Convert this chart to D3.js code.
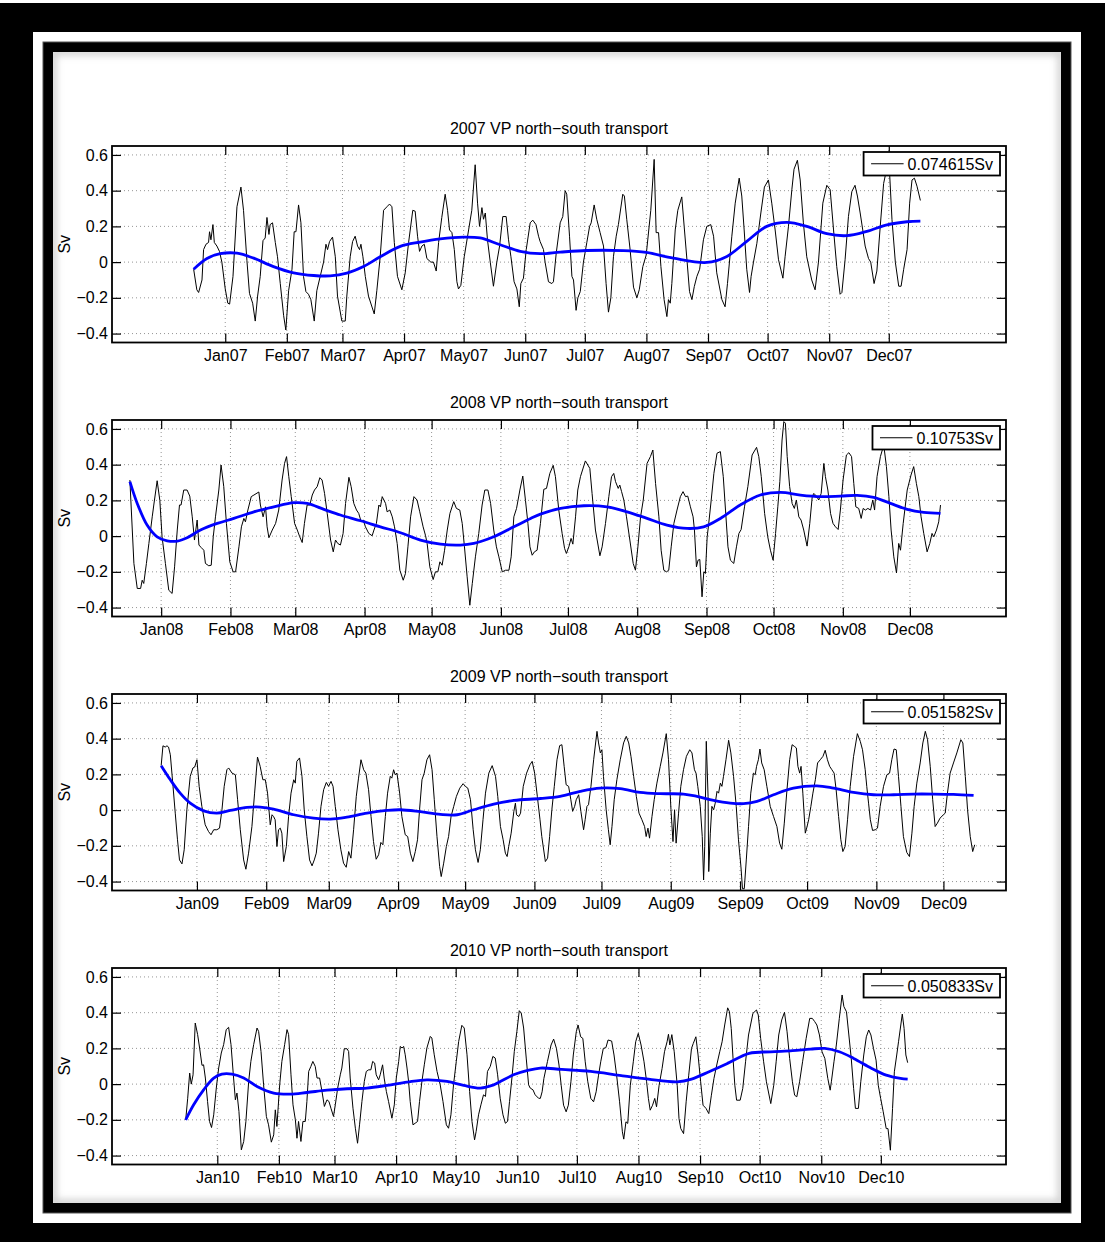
<!DOCTYPE html>
<html>
<head>
<meta charset="utf-8">
<script src="https://cdn.jsdelivr.net/npm/d3@7"></script>
<style>
  body { margin: 0; background: #fff; }
  text { font-family: "Liberation Sans", Arial, Helvetica, sans-serif; }
</style>
</head>
<body>
<svg id="fig" width="1105" height="1242"></svg>
<script>
// ---- data: daily VP north-south transport (Sv), [day of year offset, value] ----
const years = [2007, 2008, 2009, 2010];
const dayLimits = [[-57, 393], [-22, 378], [-38, 362], [-53, 397]];
const yLimits = [-0.45, 0.65];
const yTicks = [-0.4, -0.2, 0, 0.2, 0.4, 0.6];
const monthIndex = [0, 1, 2, 3, 4, 5, 6, 7, 8, 9, 10, 11];
const legendLabels = ["0.074615Sv", "0.10753Sv", "0.051582Sv", "0.050833Sv"];

const transport2007 = [
[-15.9,-0.04],[-14.3,-0.155],[-13.4,-0.17],[-11.7,-0.1],[-10.9,0.07],[-9.7,0.1],[-8.4,0.11],[-7.9,0.17],[-7.2,0.125],[-6.2,0.21],[-5.5,0.11],[-4.2,0.09],[-2.9,0.06],[-1.7,0],[0,-0.15],[1.3,-0.23],[2.2,-0.235],[3.9,-0.08],[5.9,0.31],[7.9,0.42],[9.2,0.29],[10.9,0.01],[12.2,-0.175],[13.8,-0.23],[15.1,-0.33],[16.3,-0.19],[17.6,-0.08],[19,0.12],[20.1,0.135],[21,0.25],[22,0.155],[22.6,0.21],[23.8,0.22],[25.2,0.11],[26.3,0.03],[27.7,-0.12],[29.4,-0.3],[30.5,-0.38],[31.9,-0.16],[33.6,-0.04],[34.7,0.17],[35.6,0.17],[36.9,0.32],[38.1,0.22],[39.4,-0.08],[40.6,-0.165],[41.9,-0.18],[43.1,-0.21],[44.8,-0.33],[46.1,-0.16],[47.8,-0.08],[49.5,0],[50.7,0.1],[51.5,0.07],[52.5,0.115],[54,0.14],[55.4,0.03],[56.5,-0.19],[58.7,-0.33],[60.4,-0.33],[61.2,-0.19],[62.9,0.03],[64.1,0.115],[65.4,0.145],[66.6,0.09],[67.6,0.07],[68.3,0.1],[69.3,0.03],[70.5,-0.08],[72.1,-0.19],[75,-0.29],[76.3,-0.16],[78,0.03],[79.7,0.29],[81.4,0.31],[82.7,0.325],[83.9,0.31],[85.1,0.11],[86.7,-0.08],[88.9,-0.155],[90.6,-0.06],[92.3,0.11],[94.4,0.29],[95.6,0.285],[96.8,0.145],[97.8,0.06],[99,0.09],[100.2,0.1],[101.5,0.02],[103.5,0],[104.8,0],[106.2,-0.05],[107.4,0.11],[109,0.25],[110.7,0.38],[111.9,0.29],[112.9,0.18],[114.1,0.165],[115.3,0.07],[116.6,-0.11],[117.4,-0.15],[118.6,-0.13],[120.3,0.03],[122.5,0.18],[124.1,0.29],[125.8,0.545],[127,0.33],[128,0.2],[129.2,0.305],[130,0.24],[130.9,0.275],[132,0.125],[133.4,0],[135,-0.135],[136.7,0],[138.1,0.09],[139.7,0.255],[141.4,0.255],[142.6,0.125],[143.8,0.03],[145.4,-0.11],[146.8,-0.15],[148,-0.25],[148.8,-0.12],[150.1,-0.09],[151.5,0.07],[153.5,0.22],[154.8,0.235],[156.4,0.21],[157.7,0.145],[158.5,0.115],[160.2,0.07],[161,0],[162.7,-0.11],[164.4,-0.12],[165.2,-0.11],[166.6,0.05],[168.6,0.22],[169.9,0.255],[171.1,0.4],[171.9,0.38],[173.3,0.145],[174.5,-0.08],[175.3,-0.1],[176.6,-0.27],[177.5,-0.2],[178.7,-0.165],[180.3,0],[182,0.11],[183.4,0.2],[184.2,0.22],[185.7,0.32],[187,0.24],[188.7,0.165],[190.4,0.09],[191.7,-0.12],[192.9,-0.28],[194.1,-0.2],[195.4,0.03],[196.8,0.145],[197.9,0.21],[200.1,0.38],[200.9,0.37],[202.1,0.24],[203.8,0.07],[205.5,-0.14],[207.2,-0.2],[208.4,-0.155],[210.2,-0.025],[211.9,0.04],[214.2,0.29],[215.9,0.575],[216.9,0.165],[218.1,0.165],[219.3,-0.025],[220.9,-0.21],[222.3,-0.305],[223.1,-0.21],[224,-0.23],[224.8,-0.12],[226.5,0.18],[227.8,0.29],[229.8,0.365],[231,0.2],[232.4,0.013],[233.7,-0.165],[234.9,-0.21],[236.1,-0.137],[237.4,-0.08],[238.8,-0.04],[240.7,0.125],[242.4,0.2],[244.4,0.21],[245.8,0.145],[247.4,-0.06],[250,-0.21],[251.6,-0.25],[252.8,-0.12],[255,0.145],[256.7,0.33],[258.7,0.47],[260,0.37],[261.2,0.18],[262.5,-0.04],[263.9,-0.17],[264.7,-0.08],[265.9,0],[267.6,0.105],[269.6,0.275],[271.4,0.42],[273.4,0.46],[275.1,0.33],[276.8,0.18],[278.5,0.013],[280.7,-0.09],[281.8,0.03],[283.5,0.2],[285.2,0.405],[286.3,0.52],[288,0.57],[289.4,0.46],[291,0.22],[292.7,0.03],[295.2,-0.1],[296.9,-0.155],[298.6,0],[300.8,0.33],[302.8,0.43],[304.5,0.405],[306.2,0.18],[307.8,-0.025],[309.5,-0.18],[310.4,-0.17],[312,0.013],[313.7,0.256],[315.4,0.395],[317,0.43],[318.2,0.37],[319.6,0.275],[320.9,0.18],[322.1,0.09],[323.8,0.02],[324.9,0],[326.6,-0.12],[328,-0.05],[329.7,0.2],[331.4,0.44],[333.1,0.53],[334.4,0.5],[335.6,0.24],[337.3,0],[339,-0.135],[340.2,-0.135],[341.5,-0.04],[343.2,0.07],[344.5,0.33],[345.7,0.46],[346.9,0.47],[348.2,0.425],[349.9,0.345]
];
const trend2007 = [
[-15.9,-0.04],[-9.2,0.02],[-2.5,0.047],[5.9,0.05],[14.3,0.022],[24.3,-0.025],[34.4,-0.06],[44.5,-0.075],[52.8,-0.077],[61.2,-0.062],[69.6,-0.025],[78,0.03],[88.1,0.088],[98.1,0.112],[108.2,0.13],[119.9,0.14],[128.3,0.135],[138.4,0.097],[148.5,0.06],[158.5,0.047],[168.6,0.056],[182,0.065],[200.5,0.064],[211.9,0.054],[225.6,0.022],[242.4,-0.002],[252.5,0.032],[262.5,0.116],[272.6,0.2],[282.7,0.222],[292.7,0.2],[302.8,0.159],[312.9,0.148],[323,0.172],[333.1,0.209],[343.2,0.226],[349.9,0.23]
];

const transport2008 = [
[-14,0.314],[-12.2,-0.153],[-10.7,-0.293],[-9.2,-0.293],[-8.5,-0.247],[-7.8,-0.265],[-6.6,-0.153],[-5.5,-0.041],[-4,0.108],[-3.3,0.174],[-1.8,0.31],[-0.6,0.2],[0.4,-0.004],[1.9,-0.153],[3.4,-0.303],[4.9,-0.321],[6,-0.172],[7.2,0.034],[8.2,0.174],[8.9,0.174],[10.1,0.258],[11.6,0.258],[12.8,0.224],[13.9,0.108],[14.9,-0.022],[16.1,0.09],[16.9,-0.05],[17.9,-0.064],[19.1,-0.079],[19.8,-0.153],[21.3,-0.166],[22.4,-0.163],[23.3,-0.004],[24.3,0.108],[25.8,0.258],[26.8,0.398],[28,0.277],[29.2,0.071],[30.7,-0.144],[32.2,-0.2],[33.3,-0.2],[34.8,-0.06],[35.9,0.052],[37,0.099],[37.7,0.08],[38.8,0.146],[40.3,0.221],[41.5,0.23],[43.7,0.247],[44.4,0.174],[45.6,0.108],[46.7,0.164],[47.4,0.052],[48.2,-0.009],[49.7,0.034],[51.2,0.071],[52.6,0.146],[54.1,0.314],[55.2,0.407],[56.1,0.445],[57.1,0.333],[58.2,0.221],[59.7,0.071],[60.9,0.034],[62,-0.004],[63.1,-0.036],[64.1,0.071],[65.3,0.174],[66.5,0.174],[67.6,0.23],[68.6,0.258],[69.8,0.277],[71,0.327],[72,0.314],[73.1,0.239],[74.3,0.127],[75.8,-0.022],[77,-0.088],[78,-0.022],[79,-0.041],[80.2,-0.05],[81.4,0.015],[82.5,0.183],[84,0.329],[85,0.277],[86.2,0.183],[87.4,0.146],[88.4,0.127],[89.5,0.08],[90.4,0.09],[91.4,0.052],[92.9,0.015],[94.4,0.002],[95.2,0.034],[96.3,0.071],[97.4,0.174],[98.1,0.164],[98.9,0.221],[100.4,0.183],[101.1,0.136],[102.3,0.146],[103.4,0.108],[104.4,0.052],[105.6,-0.041],[106.8,-0.191],[108.3,-0.247],[109.3,-0.209],[110.4,-0.06],[111.6,0.108],[113.1,0.221],[114.5,0.202],[115.7,0.136],[117.2,0.052],[118.3,0.002],[119,-0.041],[120.2,-0.172],[121.7,-0.243],[122.7,-0.2],[123.8,-0.2],[124.7,-0.144],[125.7,-0.163],[126.8,-0.079],[128,0.034],[129.2,0.127],[130.9,0.193],[132.1,0.155],[133.6,0.146],[134.7,0.071],[135.7,-0.06],[136.9,-0.228],[138.1,-0.387],[139.2,-0.265],[140.6,-0.116],[142.1,0.015],[143.6,0.174],[144.8,0.258],[146.2,0.258],[147.4,0.183],[148.8,0.034],[150,-0.06],[151.1,-0.116],[152.6,-0.2],[154.1,-0.191],[155.6,-0.191],[156.6,-0.116],[157.8,0.108],[159,0.155],[160.5,0.258],[161.8,0.336],[163,0.2],[164.1,0.071],[165,-0.06],[166,-0.107],[167,-0.088],[168.2,-0.079],[169.7,0.071],[171.2,0.262],[172.4,0.267],[173.9,0.351],[175.4,0.396],[176.4,0.333],[177.9,0.146],[179.4,0.015],[180.5,-0.069],[181.3,-0.097],[182.4,-0.06],[183.4,-0.013],[184.2,-0.045],[185.4,0.108],[186.4,0.258],[187.6,0.333],[189.8,0.421],[191.8,0.379],[192.8,0.239],[194.3,0.034],[196.3,-0.11],[197.3,-0.06],[198.8,0.071],[200.3,0.221],[201.5,0.333],[202.5,0.351],[203.3,0.305],[204.5,0.267],[205.2,0.286],[206,0.249],[207,0.202],[208.2,0.108],[209.7,-0.022],[211.2,-0.153],[212.2,-0.191],[213.3,-0.06],[214.5,0.108],[215.7,0.202],[217.4,0.407],[218.9,0.445],[220,0.482],[221.2,0.295],[222.7,0.108],[223.7,-0.079],[224.9,-0.191],[226.1,-0.2],[227.1,-0.191],[228.2,-0.06],[229.4,0.071],[230.8,0.146],[232.3,0.221],[233.5,0.249],[234.6,0.221],[235.6,0.224],[236.8,0.164],[238,0.108],[238.6,0.034],[239.5,-0.172],[240.2,-0.135],[241,-0.131],[242,-0.34],[242.8,-0.2],[243.5,-0.209],[244.3,-0.004],[245,0.071],[246.1,0.202],[247.3,0.351],[248.7,0.464],[250.2,0.473],[251.5,0.333],[252.5,0.146],[253.6,-0.06],[254.7,-0.135],[256.2,-0.153],[257.4,-0.06],[258.5,0.015],[259.5,0.037],[261,0.164],[262.5,0.277],[264.4,0.454],[266.4,0.497],[267.4,0.445],[268.5,0.333],[270,0.127],[271.4,-0.004],[272.6,-0.079],[273.8,-0.135],[274.9,0.015],[275.9,0.164],[276.8,0.305],[277.8,0.538],[278.6,0.641],[279.3,0.632],[280.1,0.445],[281.2,0.277],[282.3,0.183],[283.3,0.155],[284.2,0.202],[285.3,0.108],[286.3,0.09],[287.5,0.034],[289,-0.056],[290.2,0.071],[291.3,0.221],[292,0.239],[293.2,0.224],[294.2,0.202],[295.3,0.239],[296.5,0.407],[297.2,0.333],[298.3,0.258],[299.5,0.127],[300.6,0.071],[301.7,0.052],[302.9,0.037],[303.9,0.146],[305.1,0.314],[306.6,0.454],[307.7,0.467],[308.9,0.445],[309.9,0.295],[310.8,0.164],[312.1,0.155],[313.2,0.099],[314.1,0.155],[315.1,0.146],[316.2,0.155],[317.4,0.146],[318.4,0.202],[319.2,0.146],[320.3,0.333],[321.8,0.445],[323.3,0.51],[324.5,0.389],[325.6,0.221],[326.6,0.034],[327.8,-0.116],[329,-0.206],[330,-0.041],[330.8,-0.079],[332,0.071],[333.8,0.258],[335.5,0.342],[336.7,0.389],[337.9,0.295],[339,0.221],[340,0.108],[341.2,0.015],[342.7,-0.088],[343.9,-0.041],[344.9,0.015],[345.7,-0.004],[346.9,0.034],[347.9,0.08],[348.7,0.174]
];
const trend2008 = [
[-14,0.305],[-10.7,0.183],[-6.3,0.062],[-1.8,-0.004],[2.7,-0.026],[7.2,-0.028],[11.6,-0.009],[17.6,0.034],[25.1,0.071],[32.5,0.099],[41.5,0.136],[50.4,0.164],[59.4,0.187],[65.3,0.183],[72.8,0.15],[80.2,0.118],[89.2,0.086],[98.1,0.052],[107.1,0.019],[116,-0.022],[125,-0.045],[133.9,-0.05],[139.9,-0.041],[148.8,-0.004],[157.8,0.052],[165.3,0.099],[169.7,0.123],[178.7,0.155],[189.1,0.17],[199.5,0.164],[208.5,0.136],[217.4,0.099],[226.3,0.062],[235.3,0.043],[242.7,0.052],[250.2,0.099],[259.1,0.174],[268.1,0.23],[277.1,0.245],[286,0.23],[295,0.221],[303.9,0.224],[311.4,0.228],[318.8,0.217],[326.3,0.183],[333.8,0.15],[341.2,0.133],[348.7,0.127]
];

const transport2009 = [
[-16,0.249],[-15.2,0.36],[-14.2,0.353],[-13.4,0.36],[-12.7,0.353],[-11.9,0.31],[-10.7,0.133],[-9.7,-0.017],[-8.7,-0.166],[-7.8,-0.279],[-6.7,-0.301],[-5.7,-0.222],[-4.5,0.002],[-3,0.189],[-1.8,0.236],[-1,0.241],[0,0.282],[1,0.133],[2.2,0.021],[3.7,-0.082],[5.2,-0.12],[6.3,-0.138],[7.5,-0.11],[8.9,-0.11],[10.1,-0.101],[11.2,0.002],[12.2,0.133],[13.4,0.226],[14.2,0.236],[15.7,0.207],[17.2,0.198],[18.2,0.058],[19.4,-0.11],[20.9,-0.279],[21.9,-0.331],[23.1,-0.241],[24.6,-0.092],[25.8,0.095],[27.1,0.297],[28.3,0.245],[29.5,0.17],[30.6,0.17],[31.6,0.095],[32.8,-0.082],[33.6,-0.026],[34.3,-0.036],[35,-0.054],[35.8,-0.204],[36.5,-0.11],[37.3,-0.101],[38,-0.129],[38.8,-0.288],[40,-0.204],[41,-0.036],[42.1,0.095],[43.3,0.17],[44,0.151],[44.7,0.273],[45.9,0.292],[47,0.189],[48,0.002],[49.2,-0.148],[50.4,-0.279],[51.5,-0.312],[52.5,-0.279],[53.4,-0.241],[54.4,-0.129],[55.5,0.021],[56.7,0.114],[57.9,0.155],[58.9,0.133],[60,0.161],[60.9,0.133],[61.9,0.021],[63.1,-0.11],[64.4,-0.222],[65.6,-0.297],[66.8,-0.32],[67.9,-0.232],[68.9,-0.269],[70.1,-0.11],[71.3,0.077],[72.3,0.179],[73.4,0.282],[74.6,0.226],[75.6,0.207],[76.8,0.114],[77.9,-0.036],[79,-0.176],[80.2,-0.275],[81.3,-0.25],[82.3,-0.181],[83.2,-0.194],[84.3,-0.036],[85.3,0.095],[86.5,0.189],[87.2,0.179],[88,0.226],[88.7,0.198],[89.5,0.207],[90.7,0.095],[91.7,-0.036],[93.2,-0.138],[94.3,-0.148],[95.5,-0.241],[96.6,-0.288],[97.7,-0.232],[98.7,-0.166],[99.6,0.002],[100.7,0.17],[101.7,0.207],[102.9,0.282],[104.1,0.31],[105.2,0.226],[106.2,0.058],[107.4,-0.148],[108.6,-0.316],[109.3,-0.372],[110.4,-0.297],[111.6,-0.204],[112.6,-0.148],[113.7,-0.036],[114.9,0.021],[116.1,0.077],[117.6,0.123],[119.1,0.148],[120.1,0.133],[121.2,0.123],[122.4,0.058],[123.6,-0.11],[124.6,-0.222],[125.8,-0.293],[126.8,-0.222],[128,-0.054],[129.1,0.095],[130.6,0.207],[132.1,0.249],[133.6,0.189],[134.6,0.077],[135.8,-0.092],[137,-0.166],[138,-0.241],[138.8,-0.26],[139.5,-0.204],[140.6,-0.129],[141.8,-0.007],[142.5,0.039],[143,-0.026],[144,-0.036],[144.8,-0.017],[146,0.133],[147.5,0.207],[149,0.254],[150,0.273],[151.1,0.207],[152.3,0.077],[153.5,-0.054],[154.3,-0.148],[155.9,-0.288],[156.9,-0.269],[157.8,-0.148],[158.8,0.002],[159.9,0.133],[161.1,0.282],[162.3,0.361],[163.3,0.366],[164.3,0.245],[165.2,0.142],[166.3,0.133],[167.3,0.058],[168.1,-0.007],[169,0.021],[169.7,0.058],[170.8,0.086],[171.8,-0.007],[173,-0.11],[173.7,-0.054],[174.5,0.021],[175.2,0.03],[176.3,0.133],[177.5,0.282],[179,0.441],[179.7,0.376],[180.5,0.32],[181.2,0.338],[181.9,0.189],[183.1,0.002],[184.1,-0.11],[184.9,-0.194],[185.7,-0.092],[186.7,0.058],[187.9,0.17],[189.4,0.282],[190.9,0.376],[192.1,0.413],[193.2,0.376],[194.2,0.301],[195.4,0.189],[196.6,0.077],[197.8,-0.017],[199.1,-0.054],[200.3,-0.092],[201,-0.148],[201.8,-0.101],[202.5,-0.157],[203.6,-0.036],[204.6,0.058],[205.8,0.151],[207.3,0.245],[208.5,0.32],[210,0.428],[211,0.282],[212.1,0.002],[213,-0.176],[213.7,0.002],[214.4,-0.185],[215.5,-0.017],[216.5,0.133],[217.7,0.226],[219,0.301],[220.5,0.338],[221.5,0.32],[222.6,0.226],[223.3,0.207],[224.1,0.133],[225.2,0.021],[226.1,-0.148],[226.7,-0.391],[227.2,-0.204],[227.9,0.385],[228.7,0.077],[229,-0.344],[229.7,-0.129],[230.4,0.021],[231.2,0.002],[231.9,0.039],[232.7,0.105],[233.4,0.095],[234.2,0.151],[234.9,0.133],[235.6,0.189],[236.7,0.282],[237.9,0.391],[238.9,0.32],[240.1,0.189],[241.3,0.021],[242.3,-0.166],[243.4,-0.316],[244.1,-0.44],[244.9,-0.44],[245.8,-0.279],[246.8,-0.092],[247.8,0.095],[249,0.207],[249.8,0.198],[250.4,0.245],[251.2,0.282],[251.9,0.342],[252.7,0.264],[253.8,0.226],[255,0.133],[256.5,0.021],[258,-0.036],[259.5,-0.092],[260.7,-0.185],[261.7,-0.219],[262.8,-0.073],[264,0.114],[265.2,0.282],[266.3,0.366],[267.3,0.357],[268.2,0.348],[268.9,0.245],[269.7,0.207],[270.3,0.245],[271.1,0.095],[272.2,-0.129],[273,-0.092],[273.7,-0.054],[274.7,0.021],[275.6,0.095],[276.7,0.17],[277.7,0.264],[278.9,0.282],[280.1,0.301],[281.1,0.335],[282.1,0.282],[283.1,0.245],[284.1,0.226],[285.1,0.207],[286,0.114],[287.1,-0.036],[288.1,-0.166],[289,-0.232],[290,-0.204],[291.1,-0.054],[292.3,0.133],[293.8,0.301],[295.5,0.428],[296.8,0.385],[297.8,0.338],[299,0.226],[299.7,0.133],[300.5,0.039],[301.3,-0.054],[302.3,-0.114],[303.5,-0.11],[304.5,-0.101],[305.7,0.021],[307.2,0.133],[308.7,0.198],[309.9,0.207],[310.9,0.282],[311.9,0.342],[312.9,0.338],[313.9,0.189],[315,0.021],[316.1,-0.148],[317.6,-0.237],[318.8,-0.26],[319.9,-0.129],[320.9,0.021],[322.1,0.151],[323.6,0.264],[324.8,0.376],[325.9,0.441],[326.9,0.394],[328.1,0.245],[329.2,0.058],[330.3,-0.092],[331.3,-0.073],[332.5,-0.045],[334,-0.026],[334.8,-0.017],[335.8,0.095],[337,0.207],[338.5,0.264],[340,0.32],[341.8,0.394],[342.7,0.376],[343.8,0.189],[344.8,0.002],[346,-0.148],[347.1,-0.232],[348,-0.194]
];
const trend2009 = [
[-16,0.249],[-11.9,0.17],[-7.5,0.095],[-3,0.039],[3,-0.004],[8.9,-0.017],[14.9,-0.002],[22.4,0.015],[28.3,0.017],[34.3,0.006],[43.3,-0.026],[52.2,-0.045],[59.7,-0.05],[67.1,-0.039],[76.1,-0.017],[85,-0.002],[91,0.002],[99.9,-0.009],[108.9,-0.024],[116.4,-0.026],[123.8,0.002],[132.8,0.034],[141.8,0.054],[153.7,0.065],[162.5,0.077],[171.5,0.105],[180.4,0.123],[189.4,0.12],[198.3,0.099],[207.3,0.092],[217.7,0.09],[223.7,0.077],[231.2,0.054],[238.6,0.039],[244.6,0.036],[250.6,0.049],[258,0.086],[266.9,0.123],[277.4,0.136],[284.8,0.123],[293.8,0.099],[302.7,0.086],[311.7,0.086],[320.6,0.09],[329.6,0.09],[338.5,0.088],[347.5,0.082]
];

const transport2010 = [
[-15.9,-0.2],[-14.9,-0.079],[-13.9,0.062],[-13.1,0],[-12.2,0.052],[-11.1,0.342],[-9.9,0.277],[-8.9,0.202],[-7.7,0.105],[-6.9,0.108],[-6,0.034],[-4.9,-0.097],[-3.9,-0.209],[-2.9,-0.243],[-1.8,-0.172],[-0.5,-0.022],[0.7,0.09],[2,0.174],[3.2,0.221],[4.5,0.305],[5.7,0.318],[6.9,0.221],[8.2,0.034],[9.1,-0.088],[9.9,-0.05],[10.9,-0.153],[12.1,-0.368],[13.3,-0.321],[14.4,-0.209],[15.8,0.015],[16.9,0.127],[18.3,0.221],[20,0.314],[20.8,0.295],[22,0.183],[23.3,-0.004],[24.7,-0.181],[25.8,-0.228],[27.2,-0.325],[28.4,-0.284],[29.2,-0.144],[30,-0.237],[31.4,-0.004],[32.5,0.127],[33.9,0.221],[35.1,0.305],[35.9,0.277],[37.1,0.052],[38.1,-0.116],[39.3,-0.2],[40.1,-0.303],[40.9,-0.209],[42.1,-0.321],[43.1,-0.209],[44.3,-0.209],[45.1,-0.097],[46,0.071],[47.1,0.099],[48.1,0.127],[49.3,0.099],[50.2,0.034],[51.5,0.034],[52.7,-0.041],[53.9,-0.125],[55.2,-0.088],[56.2,-0.097],[57.2,-0.135],[58.5,-0.181],[59.4,-0.116],[60.6,-0.022],[61.9,0.052],[62.7,0.09],[63.9,0.198],[65.3,0.198],[66.1,0.183],[66.9,0.034],[68.3,-0.135],[69.5,-0.247],[70.6,-0.331],[71.6,-0.228],[72.8,-0.097],[74,0.015],[75,0.071],[76.2,0.08],[77.3,0.08],[78.2,0.127],[79.2,0.118],[80,0.052],[81.2,0.024],[82,0.052],[83.2,0.108],[84,0.034],[85.1,-0.041],[86.2,-0.097],[87.9,-0.191],[89.1,-0.116],[90.1,0.034],[91.3,0.127],[92.1,0.211],[93,0.202],[93.8,0.211],[94.6,0.164],[95.5,0.09],[96.3,0.015],[97.1,-0.097],[98.5,-0.228],[99.6,-0.219],[100.8,-0.209],[101.8,-0.097],[103,0.015],[104.2,0.108],[105.5,0.202],[107.2,0.267],[108,0.258],[109.2,0.164],[110.6,0.071],[112.2,-0.004],[113.6,-0.097],[115.3,-0.228],[116.4,-0.247],[117.6,-0.172],[118.9,-0.004],[120.3,0.127],[121.5,0.239],[123.1,0.329],[124.3,0.314],[125.7,0.164],[127,-0.041],[128.2,-0.209],[129.5,-0.312],[130.3,-0.265],[131.5,-0.172],[132.7,-0.116],[134,-0.06],[135,-0.069],[136,0.071],[137.4,0.099],[138.7,0.155],[139.9,0.146],[141.1,0.052],[142.4,-0.079],[143.8,-0.172],[145,-0.219],[146.1,-0.209],[147.1,-0.097],[148.3,0.034],[149.5,0.183],[150.8,0.295],[152,0.411],[153,0.398],[154.2,0.314],[155.5,0.146],[156.7,-0.004],[157.5,-0.022],[158.9,-0.032],[160,-0.06],[161.7,-0.079],[162.6,-0.08],[163.5,-0.043],[164.4,0.032],[166.2,0.127],[168,0.219],[169.3,0.252],[170.7,0.2],[172,0.107],[173.1,-0.006],[174.3,-0.118],[175.6,-0.155],[176.7,-0.118],[178,0.013],[179.2,0.163],[180.7,0.293],[181.6,0.331],[182.9,0.265],[184,0.256],[185.2,0.125],[186.5,0.013],[188,-0.08],[189.4,-0.099],[190.7,-0.043],[191.9,0.05],[193,0.125],[194.3,0.2],[195.6,0.204],[196.7,0.247],[198.5,0.241],[199.7,0.163],[201,0.05],[202.5,-0.099],[203.9,-0.267],[204.6,-0.308],[205.7,-0.211],[206.6,-0.22],[207.9,-0.006],[209.4,0.125],[210.6,0.237],[211.9,0.284],[213.3,0.219],[214.8,0.125],[216.1,0.013],[217,-0.08],[217.9,-0.146],[219.1,-0.118],[220.2,-0.08],[221.1,-0.127],[222.4,-0.006],[223.9,0.088],[225.1,0.181],[226.4,0.237],[227.1,0.279],[227.8,0.219],[228.8,0.277],[230,0.181],[231.5,-0.006],[232.4,-0.193],[233.3,-0.249],[234.7,-0.277],[236,-0.099],[237.3,0.05],[238.7,0.2],[239.6,0.228],[240.9,0.265],[242,0.163],[243.3,0.013],[244.5,-0.118],[246,-0.136],[247.4,-0.165],[248.7,-0.062],[250,0.032],[251.4,0.107],[252.9,0.181],[254.1,0.237],[255.4,0.331],[256.9,0.427],[257.8,0.405],[258.7,0.312],[259.6,0.144],[260.5,-0.006],[261.4,-0.09],[263.2,-0.09],[264.5,-0.024],[265.9,0.125],[267.4,0.275],[269.6,0.396],[271.4,0.415],[272.3,0.387],[273.5,0.256],[275,0.125],[276.4,0.013],[278.6,-0.109],[280.1,-0.006],[281.3,0.125],[282.6,0.275],[284.1,0.359],[285.5,0.402],[286.8,0.293],[288.1,0.144],[289.5,0.013],[290.6,-0.062],[291.7,-0.071],[293.1,0.013],[294.6,0.125],[296.4,0.256],[298.2,0.368],[299.5,0.368],[300.7,0.35],[301.8,0.331],[303.1,0.275],[304.4,0.181],[305.8,0.144],[307.3,0.032],[308.5,-0.034],[309.1,0.013],[310.4,0.125],[311.6,0.219],[313.1,0.368],[314.5,0.499],[315.4,0.434],[316.7,0.405],[317.9,0.275],[319.1,0.144],[320.3,-0.024],[321.2,-0.136],[322.7,-0.136],[323.9,0.013],[325.4,0.163],[326.7,0.265],[327.9,0.303],[329,0.275],[330.3,0.2],[331.6,0.134],[332.7,-0.006],[333.9,-0.08],[335.2,-0.155],[336.7,-0.249],[337.6,-0.249],[338.8,-0.37],[339.9,-0.136],[340.8,0.069],[342,0.163],[342.9,0.237],[344.8,0.392],[345.7,0.312],[346.6,0.163],[347.5,0.12]
];
const trend2010 = [
[-15.9,-0.2],[-11.9,-0.116],[-6.9,-0.032],[-1.8,0.034],[2.3,0.056],[7.4,0.056],[13.3,0.034],[20,-0.013],[28.4,-0.05],[36.7,-0.056],[45.1,-0.047],[55.2,-0.034],[65.3,-0.026],[75.3,-0.022],[85.4,-0.007],[95.5,0.011],[105.5,0.024],[115.6,0.015],[124,-0.007],[132.4,-0.022],[139.1,-0.004],[149.1,0.052],[155.8,0.075],[162.6,0.09],[173.4,0.082],[188,0.071],[202.5,0.049],[217,0.028],[231.5,0.013],[238.7,0.028],[247.8,0.071],[256.8,0.116],[267.7,0.172],[278.6,0.181],[289.5,0.187],[298.6,0.196],[305.8,0.2],[313.1,0.181],[320.3,0.144],[329.4,0.088],[336.7,0.05],[343.9,0.032],[347.5,0.028]
];

const transportSeries = [transport2007, transport2008, transport2009, transport2010];
const trendSeries = [trend2007, trend2008, trend2009, trend2010];

// ---- layout ----
const W = 1105, H = 1242;
const plotLeft = 112, plotRight = 1006, plotH = 196.5;
const plotTops = [146, 420, 694, 968];
const FONT = 16;

const svg = d3.select("#fig");
const defs = svg.append("defs");

// frame: outer black border, white gap, inner black border, content
svg.append("rect").attr("width", W).attr("height", H).attr("fill", "#fff");
svg.append("rect").attr("x", 0).attr("y", 3).attr("width", W).attr("height", H - 3).attr("fill", "#000");
svg.append("rect").attr("x", 33).attr("y", 32).attr("width", 1048).attr("height", 1191).attr("fill", "#fff");
svg.append("rect").attr("x", 43).attr("y", 42).attr("width", 1028).attr("height", 1171)
  .attr("fill", "#000").attr("stroke", "#555").attr("stroke-width", 1);
svg.append("rect").attr("x", 53).attr("y", 52).attr("width", 1008).attr("height", 1151).attr("fill", "#fff");

// soft inner shadow along the content edge
defs.append("clipPath").attr("id", "content-clip")
  .append("rect").attr("x", 53).attr("y", 52).attr("width", 1008).attr("height", 1151);
defs.append("filter").attr("id", "soft").attr("x", "-5%").attr("y", "-5%").attr("width", "110%").attr("height", "110%")
  .append("feGaussianBlur").attr("stdDeviation", 3.5);
svg.append("g").attr("clip-path", "url(#content-clip)")
  .append("rect").attr("x", 53).attr("y", 52).attr("width", 1008).attr("height", 1151)
  .attr("fill", "none").attr("stroke", "#cfcfcf").attr("stroke-width", 7).attr("filter", "url(#soft)");

const dayDate = (yr, d) => new Date(Date.UTC(yr, 0, 1) + d * 864e5);
const fmtMonth = d3.utcFormat("%b%y");
const fmtY = d => d === 0 ? "0" : d3.format(".1f")(d);

years.forEach((yr, i) => {
  const top = plotTops[i], bottom = top + plotH;
  const x = d3.scaleUtc()
    .domain([dayDate(yr, dayLimits[i][0]), dayDate(yr, dayLimits[i][1])])
    .range([plotLeft, plotRight]);
  const y = d3.scaleLinear().domain(yLimits).range([bottom, top]);
  const months = monthIndex.map(m => new Date(Date.UTC(yr, m, 1)));

  const g = svg.append("g").attr("class", "panel");

  // dotted grid
  const grid = g.append("g").attr("stroke", "#7a7a7a").attr("stroke-width", 0.8)
    .attr("stroke-dasharray", "1,3");
  grid.selectAll("line.gx").data(months).join("line").attr("class", "gx")
    .attr("x1", d => x(d)).attr("x2", d => x(d)).attr("y1", top).attr("y2", bottom);
  grid.selectAll("line.gy").data(yTicks).join("line").attr("class", "gy")
    .attr("x1", plotLeft).attr("x2", plotRight).attr("y1", d => y(d)).attr("y2", d => y(d));

  // clipped data lines
  const clipId = "clip" + yr;
  defs.append("clipPath").attr("id", clipId)
    .append("rect").attr("x", plotLeft).attr("y", top).attr("width", plotRight - plotLeft).attr("height", plotH);
  const data = g.append("g").attr("clip-path", `url(#${clipId})`);

  const rawLine = d3.line().x(d => x(dayDate(yr, d[0]))).y(d => y(d[1])).curve(d3.curveLinear);
  data.append("path").datum(transportSeries[i]).attr("d", rawLine)
    .attr("fill", "none").attr("stroke", "#000").attr("stroke-width", 1).attr("stroke-linejoin", "round");

  const trendLine = d3.line().x(d => x(dayDate(yr, d[0]))).y(d => y(d[1])).curve(d3.curveCatmullRom.alpha(0.5));
  data.append("path").datum(trendSeries[i]).attr("d", trendLine)
    .attr("fill", "none").attr("stroke", "#0000ff").attr("stroke-width", 2.8).attr("stroke-linecap", "butt");

  // axes with inward ticks on all four sides
  const styleAxis = sel => {
    sel.select(".domain").remove();
    sel.selectAll(".tick line").attr("stroke", "#000").attr("stroke-width", 1.2);
    sel.selectAll("text").attr("font-size", FONT).attr("fill", "#000")
      .attr("font-family", "'Liberation Sans', Arial, Helvetica, sans-serif");
  };
  g.append("g").attr("transform", `translate(0,${bottom})`)
    .call(d3.axisBottom(x).tickValues(months).tickFormat(fmtMonth).tickSizeInner(-9).tickSizeOuter(0).tickPadding(7))
    .call(styleAxis);
  g.append("g").attr("transform", `translate(0,${top})`)
    .call(d3.axisTop(x).tickValues(months).tickFormat("").tickSizeInner(-9).tickSizeOuter(0))
    .call(styleAxis);
  g.append("g").attr("transform", `translate(${plotLeft},0)`)
    .call(d3.axisLeft(y).tickValues(yTicks).tickFormat(fmtY).tickSizeInner(-9).tickSizeOuter(0).tickPadding(4))
    .call(styleAxis);
  g.append("g").attr("transform", `translate(${plotRight},0)`)
    .call(d3.axisRight(y).tickValues(yTicks).tickFormat("").tickSizeInner(-9).tickSizeOuter(0))
    .call(styleAxis);

  // axes box
  g.append("rect").attr("x", plotLeft).attr("y", top).attr("width", plotRight - plotLeft).attr("height", plotH)
    .attr("fill", "none").attr("stroke", "#000").attr("stroke-width", 1.8);

  // title and y label
  g.append("text").attr("x", (plotLeft + plotRight) / 2).attr("y", top - 12.5)
    .attr("text-anchor", "middle").attr("font-size", FONT).attr("fill", "#000")
    .text(`${yr} VP north\u2212south transport`);
  g.append("text").attr("transform", `translate(69.5,${top + plotH / 2}) rotate(-90)`)
    .attr("text-anchor", "middle").attr("font-size", FONT).attr("fill", "#000").text("Sv");

  // legend
  const leg = g.append("g");
  const box = leg.append("rect");
  const label = leg.append("text").attr("font-size", FONT).attr("fill", "#000").text(legendLabels[i]);
  const tw = label.node().getComputedTextLength();
  const bw = tw + 51, bh = 23.5;
  const bx = plotRight - 6 - bw, by = top + 6;
  box.attr("x", bx).attr("y", by).attr("width", bw).attr("height", bh)
    .attr("fill", "#fff").attr("stroke", "#000").attr("stroke-width", 1.8);
  leg.append("line").attr("x1", bx + 7.5).attr("x2", bx + 40).attr("y1", by + bh / 2).attr("y2", by + bh / 2)
    .attr("stroke", "#000").attr("stroke-width", 1);
  label.attr("x", bx + 44).attr("y", by + bh / 2 + 5.8);
});
</script>
</body>
</html>
